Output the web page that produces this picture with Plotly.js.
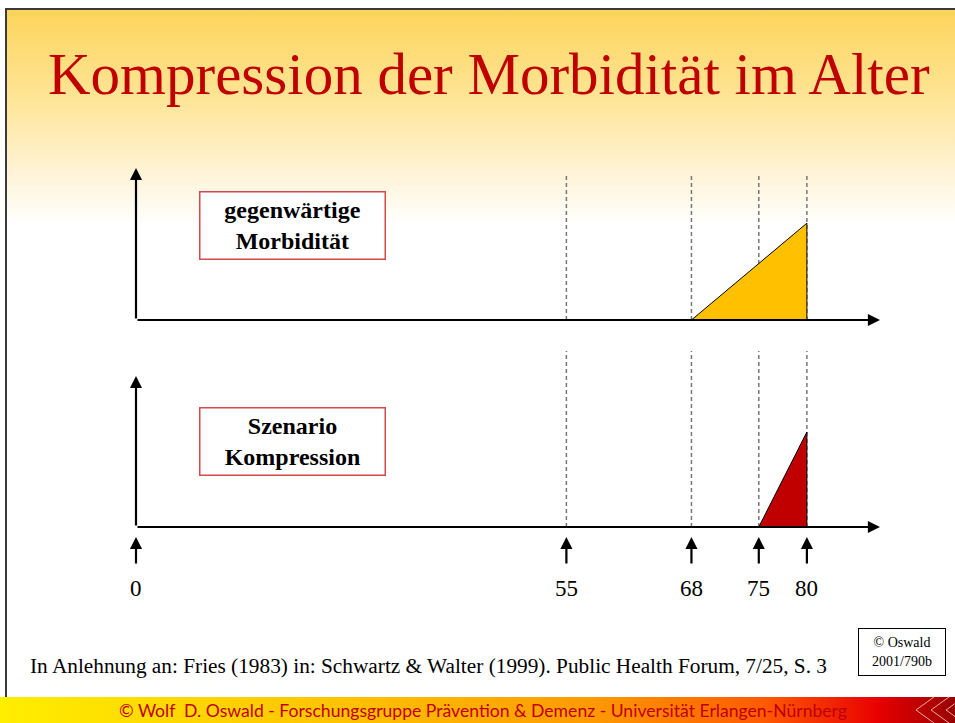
<!DOCTYPE html>
<html>
<head>
<meta charset="utf-8">
<script src="https://cdn.plot.ly/plotly-3.0.1.min.js"></script>
<style>
  body { margin: 0; background: #fff; }
  #wrap { position: relative; width: 955px; height: 723px; overflow: hidden; }
  #slide {
    position: absolute; left: 5px; top: 8px; width: 960px; height: 720px;
    border-top: 2px solid #3a3a3a; border-left: 2px solid #3a3a3a;
    background: linear-gradient(to bottom, #fdd45c 0px, #fee597 90px, #fff4d8 165px, #ffffff 215px);
  }
  #footer {
    position: absolute; left: 0; top: 697px; width: 955px; height: 26px;
    background: linear-gradient(to right, #ffee00 0%, #ffc400 35%, #ff9a00 62%, #ff5a00 80%, #e80000 92%, #990000 100%);
  }
  #myDiv { position: absolute; left: 0; top: 0; width: 955px; height: 723px; }
</style>
</head>
<body>
<div id="wrap">
  <div id="slide"></div>
  <div id="footer"></div>
  <div id="myDiv"></div>
</div>
<script>
// ages marked on the (schematic) age axis
var ageMarks = [0, 55, 68, 75, 80];

// morbidity triangles, age vs. relative morbidity
var currentAge = [68, 80, 80, 68];
var currentMorb = [0, 0, 1, 0];
var scenarioAge = [75, 80, 80, 75];
var scenarioMorb = [0, 0, 1, 0];

var boxLabels = ['gegenwärtige<br>Morbidität', 'Szenario<br>Kompression'];
var titleText = 'Kompression der Morbidität im Alter';
var sourceText = 'In Anlehnung an: Fries (1983) in: Schwartz & Walter (1999). Public Health Forum, 7/25, S. 3';
var stampText = '© Oswald<br>2001/790b';
var footerText = '© Wolf  D. Oswald - Forschungsgruppe Prävention & Demenz - Universität Erlangen-Nürnberg';

var W = 955, H = 723;
function px(x) { return x / W; }
function py(y) { return 1 - y / H; }

var serif = 'Liberation Serif, Times New Roman, serif';

var data = [{
  x: currentAge, y: currentMorb, xaxis: 'x', yaxis: 'y2',
  type: 'scatter', mode: 'lines', fill: 'toself',
  fillcolor: '#ffc000', line: {color: '#000', width: 1},
  hoverinfo: 'skip', showlegend: false
}, {
  x: scenarioAge, y: scenarioMorb, xaxis: 'x', yaxis: 'y',
  type: 'scatter', mode: 'lines', fill: 'toself',
  fillcolor: '#c00000', line: {color: '#000', width: 1},
  hoverinfo: 'skip', showlegend: false
}];

var shapes = [];
var annotations = [];

// dashed guide lines in both panels
ageMarks.forEach(function (a) {
  if (a === 0) return;
  [[py(320), py(175)], [py(527), py(351)]].forEach(function (yy) {
    shapes.push({
      type: 'line', xref: 'x', yref: 'paper', x0: a, x1: a, y0: yy[0], y1: yy[1],
      line: {color: '#777', width: 1.5, dash: '4px,3px'}, layer: 'below'
    });
  });
});

// axis arrows (top panel base at y=320, bottom at y=527)
[[320, 168], [527, 376]].forEach(function (p) {
  annotations.push({
    xref: 'paper', yref: 'paper', x: px(136), y: py(p[1]), ax: 0, ay: p[0] - p[1],
    text: '', showarrow: true, arrowhead: 2, arrowsize: 1.1, arrowwidth: 2.2, arrowcolor: '#000'
  });
  annotations.push({
    xref: 'paper', yref: 'paper', x: px(880), y: py(p[0]), ax: -744, ay: 0,
    text: '', showarrow: true, arrowhead: 2, arrowsize: 1.1, arrowwidth: 2.2, arrowcolor: '#000'
  });
});

// age arrows and labels below the lower axis
ageMarks.forEach(function (a) {
  var xr = (a === 0) ? 'x2' : 'x';
  annotations.push({
    xref: xr, yref: 'paper', x: a, y: py(537), ax: 0, ay: 28,
    text: '', showarrow: true, arrowhead: 2, arrowsize: 1.1, arrowwidth: 2.2, arrowcolor: '#000'
  });
  annotations.push({
    xref: xr, yref: 'paper', x: a, y: py(588), xanchor: 'center', yanchor: 'middle', showarrow: false,
    text: String(a), font: {family: serif, size: 23, color: '#000'}
  });
});

// label boxes
[[292, 225], [292, 441]].forEach(function (c, i) {
  annotations.push({
    xref: 'paper', yref: 'paper', x: px(c[0]), y: py(c[1]), xanchor: 'center', yanchor: 'middle',
    showarrow: false, text: '<b>' + boxLabels[i] + '</b>', width: 182, height: 64,
    bgcolor: '#fff', bordercolor: '#d24a4a', borderwidth: 1.5,
    font: {family: serif, size: 24, color: '#000'}
  });
});

// title
annotations.push({
  xref: 'paper', yref: 'paper', x: px(489), y: py(74), xanchor: 'center', yanchor: 'middle',
  showarrow: false, text: titleText, font: {family: serif, size: 59, color: '#c00000'}
});

// source line and stamp
annotations.push({
  xref: 'paper', yref: 'paper', x: px(28), y: py(666), xanchor: 'left', yanchor: 'middle',
  showarrow: false, text: sourceText, font: {family: serif, size: 21.3, color: '#000'}
});
annotations.push({
  xref: 'paper', yref: 'paper', x: px(902), y: py(651.5), xanchor: 'center', yanchor: 'middle',
  showarrow: false, text: stampText, width: 84, height: 44, bgcolor: '#fff',
  bordercolor: '#000', borderwidth: 1, font: {family: serif, size: 14, color: '#000'}
});

// footer
annotations.push({
  xref: 'paper', yref: 'paper', x: px(483), y: py(710), xanchor: 'center', yanchor: 'middle',
  showarrow: false, text: footerText,
  font: {family: 'Lato, Open Sans, sans-serif', size: 17.6, color: '#c00000'}
});
[916, 931, 946].forEach(function (x0) {
  shapes.push({
    type: 'path', xref: 'paper', yref: 'paper',
    path: 'M ' + px(x0 + 18) + ' ' + py(697) + ' L ' + px(x0) + ' ' + py(710) + ' L ' + px(x0 + 18) + ' ' + py(723),
    line: {color: 'rgba(255,210,210,0.8)', width: 1}
  });
});

var layout = {
  width: W, height: H,
  margin: {l: 0, r: 0, t: 0, b: 0},
  paper_bgcolor: 'rgba(0,0,0,0)',
  plot_bgcolor: 'rgba(0,0,0,0)',
  showlegend: false,
  xaxis: {domain: [px(146), px(880)], range: [11.3, 87.6], visible: false, anchor: 'y'},
  xaxis2: {domain: [px(136), px(146)], range: [0, 11.3], visible: false, anchor: 'y'},
  yaxis: {domain: [py(527), py(377)], range: [0, 1.58], visible: false, anchor: 'x'},
  yaxis2: {domain: [py(320), py(167)], range: [0, 1.58], visible: false, anchor: 'x'},
  shapes: shapes,
  annotations: annotations
};

Plotly.newPlot('myDiv', data, layout, {displayModeBar: false, staticPlot: true});
</script>
</body>
</html>
